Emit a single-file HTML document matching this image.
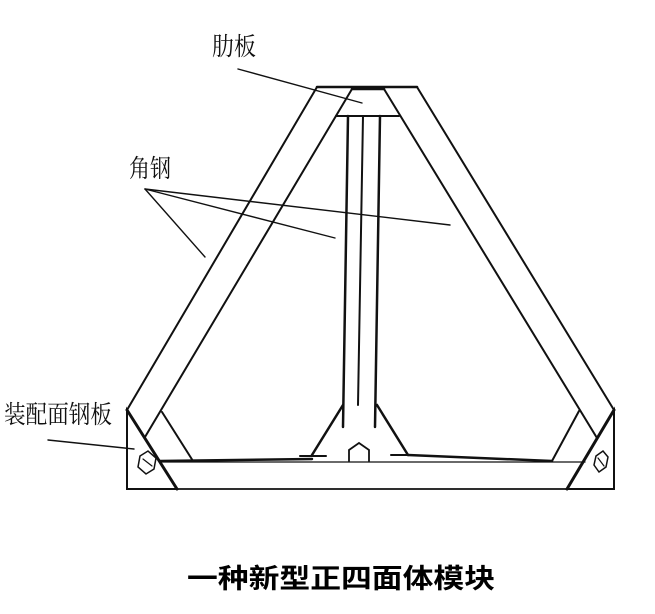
<!DOCTYPE html>
<html><head><meta charset="utf-8"><style>
html,body{margin:0;padding:0;background:#fff;width:655px;height:614px;overflow:hidden}
svg{display:block}
.l{font-family:"Liberation Serif","Noto Serif CJK SC",serif;font-size:25px;fill:#111}
.t{font-family:"Liberation Sans","Noto Sans CJK SC",sans-serif;font-size:27px;font-weight:bold;fill:#000}
</style></head><body>
<svg width="655" height="614" viewBox="0 0 655 614" xmlns="http://www.w3.org/2000/svg">
<g stroke="#111" fill="none" stroke-width="2" stroke-linecap="round">
<!-- top cap -->
<line x1="317" y1="87" x2="417" y2="87" stroke-width="2.5"/>
<line x1="352" y1="89" x2="384" y2="89" stroke-width="2.5"/>
<line x1="336" y1="116" x2="399" y2="116"/>
<!-- left leg -->
<line x1="317" y1="87" x2="127" y2="410"/>
<line x1="352" y1="89" x2="145" y2="437"/>
<!-- right leg -->
<line x1="417" y1="87" x2="614" y2="410"/>
<line x1="384" y1="89" x2="597" y2="438"/>
<!-- gussets -->
<line x1="162" y1="412" x2="193" y2="461"/>
<line x1="579" y1="411" x2="552" y2="461"/>
<!-- bottom beam -->
<line x1="160" y1="461" x2="312" y2="459" stroke-width="2.5"/>
<line x1="408" y1="455" x2="552" y2="461" stroke-width="2.5"/>
<line x1="160" y1="462" x2="585" y2="462" stroke-width="1.3"/>
<line x1="127" y1="489" x2="572" y2="489" stroke-width="1.8"/>
<!-- left plate -->
<polygon points="127,410 127,489 177,489" stroke-width="2"/>
<line x1="127" y1="410" x2="177" y2="489" stroke-width="3"/>
<polygon points="140,456 148,451 156,458 154,469 146,474 138,467" stroke-width="1.5"/>
<line x1="143" y1="459" x2="152" y2="466" stroke-width="1.2"/>
<!-- right plate -->
<polygon points="614,410 614,489 567,489" stroke-width="2"/>
<line x1="614" y1="410" x2="567" y2="489" stroke-width="3"/>
<polygon points="596,456 603,451 608,457 606,467 599,472 594,465" stroke-width="1.5"/>
<line x1="598" y1="458" x2="604" y2="466" stroke-width="1.2"/>
<!-- central column -->
<line x1="348" y1="116" x2="343" y2="427" stroke-width="2.5"/>
<line x1="363" y1="116" x2="358" y2="405"/>
<line x1="380" y1="116" x2="375" y2="427" stroke-width="2.5"/>
<line x1="343" y1="405" x2="312" y2="455" stroke-width="2.5"/>
<line x1="377" y1="405" x2="408" y2="455" stroke-width="2.5"/>
<line x1="300" y1="456" x2="326" y2="456"/>
<line x1="391" y1="455" x2="408" y2="455"/>
<polyline points="349,461 349,450 359,443 369,450 369,461" stroke-width="1.8"/>
<!-- leaders -->
<g stroke-width="1.4">
<line x1="238" y1="69" x2="362" y2="103"/>
<line x1="145" y1="189" x2="335" y2="238"/>
<line x1="145" y1="189" x2="450" y2="225"/>
<line x1="145" y1="189" x2="205" y2="257"/>
<line x1="48" y1="440" x2="134" y2="449"/>
</g>
</g>
<text class="l" x="212" y="55" textLength="44" lengthAdjust="spacingAndGlyphs">肋板</text>
<text class="l" x="129" y="177" textLength="42" lengthAdjust="spacingAndGlyphs">角钢</text>
<text class="l" x="4" y="423" textLength="108" lengthAdjust="spacingAndGlyphs">装配面钢板</text>
<text class="t" x="187" y="588" textLength="308" lengthAdjust="spacingAndGlyphs">一种新型正四面体模块</text>
</svg>
</body></html>
